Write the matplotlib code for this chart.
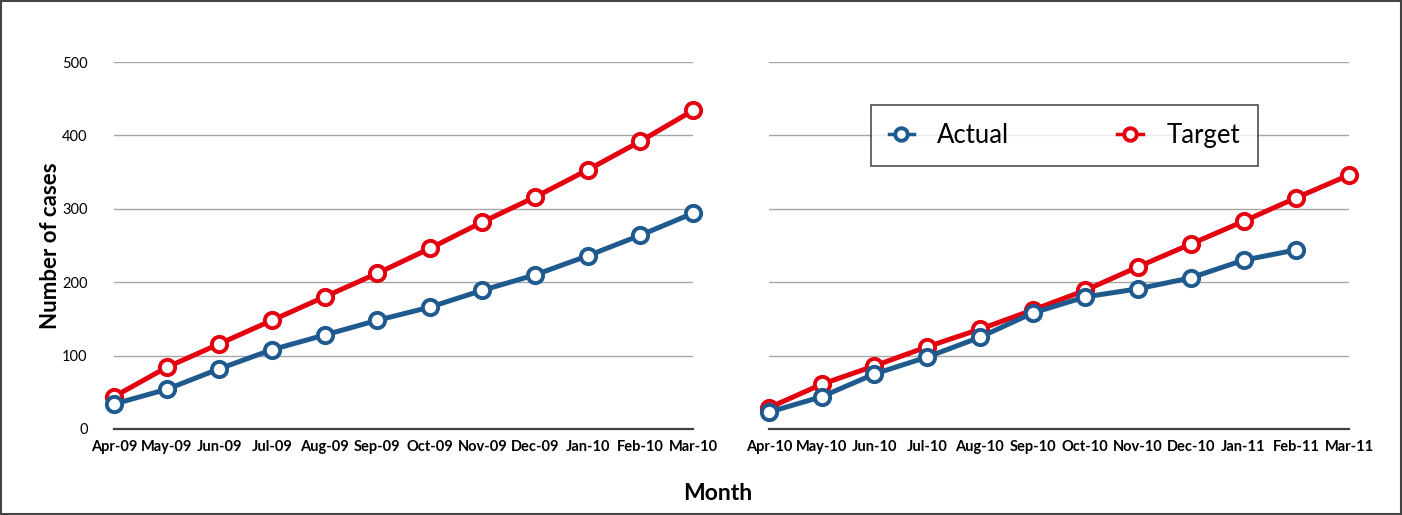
import matplotlib.pyplot as plt
from matplotlib.patches import Rectangle

plt.rcParams['font.family'] = ['Lato', 'DejaVu Sans']

months_1 = ["Apr-09", "May-09", "Jun-09", "Jul-09", "Aug-09", "Sep-09",
            "Oct-09", "Nov-09", "Dec-09", "Jan-10", "Feb-10", "Mar-10"]
actual_1 = [34, 54, 82, 108, 128, 148, 166, 189, 210, 236, 264, 294]
target_1 = [44, 84, 116, 148, 180, 212, 246, 282, 316, 353, 392, 434]

months_2 = ["Apr-10", "May-10", "Jun-10", "Jul-10", "Aug-10", "Sep-10",
            "Oct-10", "Nov-10", "Dec-10", "Jan-11", "Feb-11", "Mar-11"]
actual_2 = [23, 44, 75, 98, 125, 158, 180, 191, 206, 230, 244]
target_2 = [29, 61, 86, 112, 136, 162, 189, 221, 252, 283, 315, 346]

BLUE = "#1f5a8f"
RED = "#e3000f"

fig = plt.figure(figsize=(14.02, 5.15), dpi=100)
ax1 = fig.add_axes([0.0813, 0.167, 0.413, 0.7126])
ax2 = fig.add_axes([0.5485, 0.167, 0.4137, 0.7126])

style = dict(lw=3.6, marker="o", ms=11, mfc="white", mew=2.8, clip_on=False)

for ax, months, act, tgt in [(ax1, months_1, actual_1, target_1),
                             (ax2, months_2, actual_2, target_2)]:
    ax.plot(range(len(act)), act, color=BLUE, label="Actual", zorder=4, **style)
    ax.plot(range(len(tgt)), tgt, color=RED, label="Target", zorder=3, **style)
    ax.set_xlim(0, len(months) - 1)
    ax.set_ylim(0, 500)
    ax.set_xticks(range(len(months)))
    ax.set_xticklabels(months, fontsize=10.5, fontweight="bold")
    ax.set_yticks(range(0, 501, 100))
    ax.grid(axis="y", color="#a6a6a6", lw=1)
    ax.set_axisbelow(True)
    for s in ["top", "right", "left"]:
        ax.spines[s].set_visible(False)
    ax.spines["bottom"].set_color("#404040")
    ax.spines["bottom"].set_linewidth(1.6)
    ax.tick_params(axis="both", length=0, pad=8)
    ax.tick_params(axis="y", labelsize=10.5, pad=19)

ax2.tick_params(axis="y", labelleft=False)
ax1.set_ylabel("Number of cases", fontsize=16, fontweight="bold", labelpad=1)

leg = ax2.legend(loc="upper left", bbox_to_anchor=(0.153, 0.918), ncol=2,
                 fontsize=18.5, frameon=True, fancybox=False, edgecolor="#222222",
                 handlelength=1.0, columnspacing=4.2, borderpad=0.7,
                 handletextpad=0.9)
leg.get_frame().set_linewidth(1.2)
for h in leg.legend_handles:
    h.set_linewidth(2.5)
    h.set_markersize(9)

fig.text(0.512, 0.03, "Month", fontsize=16.5, fontweight="bold", ha="center")

fig.patches.append(Rectangle((0.001, 0.001), 0.998, 0.998, transform=fig.transFigure,
                             fill=False, edgecolor="#444444", lw=1.5))

fig.savefig("out.png", dpi=100)
